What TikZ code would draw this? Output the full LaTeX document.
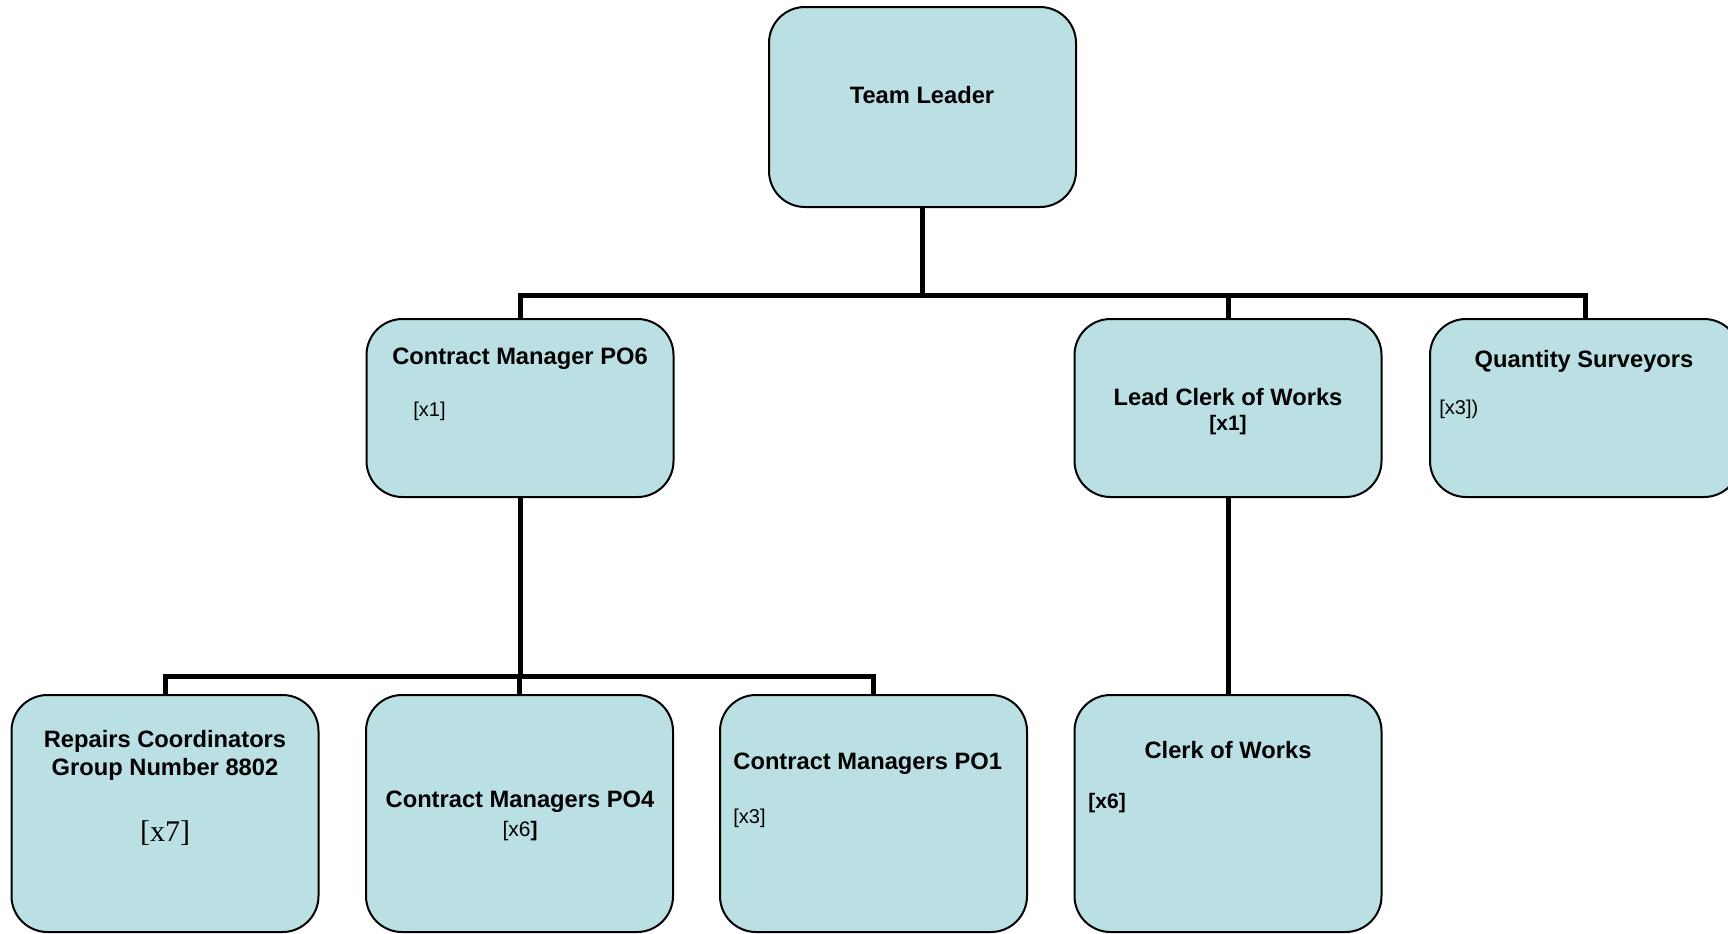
\documentclass[tikz,border=0pt]{standalone}
\usepackage{fontspec}
\setmainfont{Liberation Sans}
\newfontfamily\timescount{Liberation Serif}
\usepackage{xcolor}
\usetikzlibrary{positioning}
\definecolor{boxblue}{RGB}{187,224,227}

\begin{document}
\begin{tikzpicture}[
    x=0.5pt, y=-0.5pt,
    box/.style={rectangle, draw, line width=1pt, rounded corners=18pt, minimum width=153.5pt, minimum height=89pt, inner sep=0pt, outer sep=0pt, fill=boxblue},
    tallbox/.style={box, minimum height=118.5pt},
    title/.style={inner sep=0pt, align=center, font=\bfseries\fontsize{11.85}{14}\selectfont},
    count/.style={inner sep=0pt, font=\fontsize{10}{12}\selectfont},
    boldcount/.style={inner sep=0pt, font=\bfseries\fontsize{10.5}{12}\selectfont},
    link/.style={line width=2.5pt}
]
    \useasboundingbox (0,0) rectangle (1728,933);
    \clip (0,0) rectangle (1728,933);

    % Boxes
    \node[box, minimum height=100pt] (tl) at (922.5,107) {};
    \node[box] (cm6) at (520,408) {};
    \node[box] (lcw) at (1228,408) {};
    \node[box, minimum width=155pt] (qs) at (1585,408) {};
    \node[tallbox] (rc) at (165,813.5) {};
    \node[tallbox] (cm4) at (519.5,813.5) {};
    \node[tallbox] (cm1) at (873.5,813.5) {};
    \node[tallbox] (cw) at (1228,813.5) {};

    % Texts
    \node[title] (tltext) at (922,95) {Team Leader};
    \node[title] (cm6text) at (520,359) {Contract Manager PO6};
    \node[count, anchor=west] (cm6n) at (413,411) {[x1]};
    \node[title] (lcwtext) at (1228,397) {Lead Clerk of Works};
    \node[boldcount] (lcwn) at (1228,425) {[x1]};
    \node[title] (qstext) at (1584,361) {Quantity Surveyors};
    \node[count, anchor=west] (qsn) at (1439,409) {[x3])};
    \node[title] (rctext) at (165,755) {Repairs Coordinators\\Group Number 8802};
    \node[inner sep=0pt, font=\timescount\fontsize{15}{18}\selectfont] (rcn) at (165,833) {[x7]};
    \node[title] (cm4text) at (520,802) {Contract Managers PO4};
    \node[count, font=\fontsize{10.5}{12}\selectfont] (cm4n) at (520,831) {[x6\textbf{]}};
    \node[title, anchor=west] (cm1text) at (733,764) {Contract Managers PO1};
    \node[count, anchor=west] (cm1n) at (733,818) {[x3]};
    \node[title] (cwtext) at (1228,750) {Clerk of Works};
    \node[boldcount, anchor=west] (cwn) at (1088,803) {[x6]};

    % Connectors
    \coordinate (bus1) at (922.5,295);
    \coordinate (bus2) at (520,676);
    \draw[link] (tl.south) -- (bus1);
    \draw[link] (cm6.north) -- (cm6.north |- bus1) -| (qs.north);
    \draw[link] (lcw.north) -- (lcw.north |- bus1);
    \draw[link] (cm6.south) -- (bus2);
    \draw[link] (rc.north) -- (rc.north |- bus2) -| (cm1.north);
    \draw[link] (cm4.north) -- (cm4.north |- bus2);
    \draw[link] (lcw.south) -- (cw.north);

\end{tikzpicture}
\end{document}
